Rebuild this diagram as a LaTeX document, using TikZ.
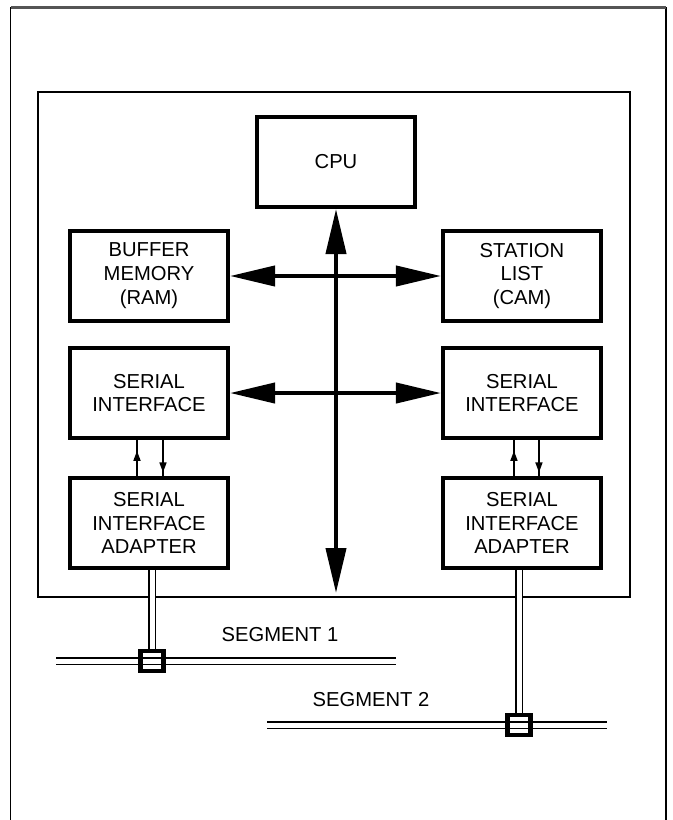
\documentclass[tikz,border=0pt]{standalone}
\usepackage{fontspec}
\setmainfont{Liberation Sans}
\usetikzlibrary{arrows.meta,positioning,calc,decorations.markings}
\definecolor{framegray}{HTML}{555555}

\begin{document}
\begin{tikzpicture}[
            x=0.02cm, y=-0.02cm,
            unit/.style={draw, line width=2.3pt, minimum width=3.16cm, minimum height=1.8cm, inner sep=0pt, align=center, font=\fontsize{11.5}{13.6}\selectfont},
            tap/.style={draw, line width=2.3pt, minimum width=0.46cm, minimum height=0.4cm, inner sep=0pt},
            label/.style={font=\fontsize{11.5}{13.6}\selectfont},
            bus/.style={line width=2.3pt, arrows={Triangle[length=0.9cm,width=0.4cm]-Triangle[length=0.9cm,width=0.4cm]}},
            cable/.style={double, double distance=0.1cm, line width=0.9pt},
            sigup/.style={line width=0.9pt, postaction={decorate}, decoration={markings, mark=at position 0.7 with {\arrow{Triangle[length=0.2cm,width=0.14cm]}}}},
            sigdown/.style={line width=0.9pt, postaction={decorate}, decoration={markings, mark=at position 0.9 with {\arrow{Triangle[length=0.2cm,width=0.14cm]}}}},
            node distance=0.46cm
        ]

        \useasboundingbox (0,0) rectangle (672,820);

        % outer frame and board
        \draw[line width=0.9pt] (10.5,820) -- (10.5,7.5);
        \draw[line width=0.9pt] (666,7.5) -- (666,820);
        \draw[framegray, line width=1.2pt] (10.5,7.5) -- (666,7.5);
        \draw[line width=0.9pt] (38,92) rectangle (630,597);

        \node[unit] (cpu) at (336,162) {CPU};

        \node[unit] (buffer) at (149,276) {BUFFER\\MEMORY\\(RAM)};

        \node[unit, right=4.22cm of buffer] (station) {STATION\\LIST\\(CAM)};

        \node[unit, below=of buffer] (serialL) {SERIAL\\INTERFACE};

        \node[unit, below=of station] (serialR) {SERIAL\\INTERFACE};

        \node[unit, below=0.72cm of serialL] (adapterL) {SERIAL\\INTERFACE\\ADAPTER};

        \node[unit, below=0.72cm of serialR] (adapterR) {SERIAL\\INTERFACE\\ADAPTER};

        \coordinate (busend) at (336,593);

        % Bus arrows
        \draw[bus] (cpu.south) -- (busend);
        \draw[bus] (buffer.east) -- (station.west);
        \draw[bus] (serialL.east) -- (serialR.west);

        % Serial lines
        \draw[sigup] ($(adapterL.north)+(-12,0)$) -- ($(serialL.south)+(-12,0)$);
        \draw[sigdown] ($(serialL.south)+(14,0)$) -- ($(adapterL.north)+(14,0)$);
        \draw[sigup] ($(adapterR.north)+(-8,0)$) -- ($(serialR.south)+(-8,0)$);
        \draw[sigdown] ($(serialR.south)+(17,0)$) -- ($(adapterR.north)+(17,0)$);

        % Segments
        \coordinate (seg1w) at (56,661);
        \coordinate (seg1e) at (396,661);
        \coordinate (seg2w) at (267,725);
        \coordinate (seg2e) at (607,725);

        \draw[cable] (seg1w) -- (seg1e);
        \draw[cable] (seg2w) -- (seg2e);

        \node[tap] (tapA) at (152,661) {};
        \node[tap] (tapB) at (519,725) {};

        \draw[cable] (adapterL.south -| tapA) -- (tapA.north);
        \draw[cable] (adapterR.south -| tapB) -- (tapB.north);

        \node[label] (seg1) at (280,635) {SEGMENT 1};
        \node[label] (seg2) at (371,700) {SEGMENT 2};

    \end{tikzpicture}
\end{document}
